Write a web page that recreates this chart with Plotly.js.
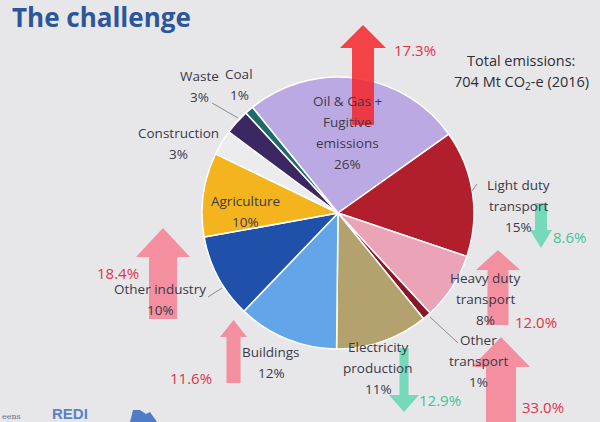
<!DOCTYPE html>
<html>
<head>
<meta charset="utf-8">
<script src="https://cdn.plot.ly/plotly-3.0.1.min.js"></script>
<style>html,body{margin:0;padding:0;background:#e7e7e9;}#chart{width:600px;height:422px;}</style>
</head>
<body>
<div id="chart"></div>
<script>
// ---- data ----
const categories = ["Oil & Gas + Fugitive emissions", "Light duty transport", "Heavy duty transport", "Other transport", "Electricity production", "Buildings", "Other industry", "Agriculture", "Construction", "Waste", "Coal"];
const labelLines = [["Oil & Gas +", "Fugitive", "emissions"], ["Light duty", "transport"], ["Heavy duty", "transport"], ["Other", "transport"], ["Electricity", "production"], ["Buildings"], ["Other industry"], ["Agriculture"], ["Construction"], ["Waste"], ["Coal"]];
const shares = [26, 15, 8, 1, 11, 12, 10, 10, 3, 3, 1];
const sliceColors = ["#bba9e3", "#b11f2c", "#eba3b7", "#8a1628", "#b3a26e", "#62a6e9", "#1f50aa", "#f3b41d", "#ececee", "#3b2762", "#1c6a6c"];
const changeCats = ["Oil & Gas + Fugitive emissions", "Light duty transport", "Heavy duty transport", "Other transport", "Electricity production", "Buildings", "Other industry"];
const changes = [17.3, -8.6, 12.0, 33.0, -12.9, 11.6, 18.4];
const totalText = ["Total emissions:", "704 Mt CO<sub>2</sub>-e (2016)"];

// ---- layout helpers (pixel -> paper) ----
const W = 600, H = 422;
const px = x => x / W, py = y => 1 - y / H;

// label placement (centre x, first line y) per category
const labelPos = [[347,101],[518,185],[485,278],[478,340],[378,347],[271,352],[160,289],[246,201],[178,133],[199,76],[239,74]];
const lineGap = 21;

const annotations = [];
categories.forEach((c, i) => {
  const lines = labelLines[i].concat([shares[i] + "%"]);
  lines.forEach((t, k) => {
    annotations.push({xref:"paper", yref:"paper", x:px(labelPos[i][0]), y:py(labelPos[i][1] + k*lineGap),
      text:t, showarrow:false, xanchor:"center", yanchor:"middle",
      font:{family:"Open Sans, sans-serif", size:13.5, color:"#3b3a4a"}});
  });
});

// arrows: [cx, tipY, baseY, headHalf, bodyHalf, endY], and label position
const arrowGeom = [[363,25,48,23,11,125],[541,248,230,11,6,203],[498,250,270,22,10.5,325],[501,337,367,29,15,430],[404,412,395,15,4.5,348],[233.5,320,337,13.5,7,383],[163,228,257,27,14,319]];
const changeLabelPos = [[415,50],[570,237],[536,322],[543,407],[440,400],[191,378],[118,273]];

const shapes = [];
changes.forEach((v, i) => {
  const [cx, tip, base, hh, bh, end] = arrowGeom[i];
  const pts = [[cx,tip],[cx+hh,base],[cx+bh,base],[cx+bh,end],[cx-bh,end],[cx-bh,base],[cx-hh,base]];
  const path = "M" + pts.map(p => px(p[0]) + "," + py(p[1])).join(" L") + " Z";
  let fill;
  if (v < 0) fill = "rgba(96,214,178,0.85)";
  else if (i === 0) fill = "rgba(246,38,42,0.85)";
  else fill = "rgba(247,118,138,0.78)";
  shapes.push({type:"path", xref:"paper", yref:"paper", path:path, fillcolor:fill, line:{width:0}, layer:"above"});
  annotations.push({xref:"paper", yref:"paper", x:px(changeLabelPos[i][0]), y:py(changeLabelPos[i][1]),
    text:Math.abs(v).toFixed(1) + "%", showarrow:false, xanchor:"center", yanchor:"middle",
    font:{family:"Open Sans, sans-serif", size:15, color: v < 0 ? "#3fc3a0" : "#e0344c"}});
});

// leader lines
const leaders = [[[212,103],[238,118]],[[208,297],[222,288]],[[430,317],[458,343]],[[472,191],[477,184]]];
leaders.forEach(l => shapes.push({type:"line", xref:"paper", yref:"paper",
  x0:px(l[0][0]), y0:py(l[0][1]), x1:px(l[1][0]), y1:py(l[1][1]), line:{color:"#8a8a96", width:1}}));

// title and total
annotations.push({xref:"paper", yref:"paper", x:px(10), y:py(17), text:"<b>The challenge</b>", showarrow:false,
  xanchor:"left", yanchor:"middle", font:{family:"Open Sans, sans-serif", size:26, color:"#2b569b"}});
totalText.forEach((t, k) => annotations.push({xref:"paper", yref:"paper", x:px(521), y:py(60 + k*23), text:t,
  showarrow:false, xanchor:"center", yanchor:"middle", font:{family:"Open Sans, sans-serif", size:14.5, color:"#2e2e36"}}));

// footer logos (text)
annotations.push({xref:"paper", yref:"paper", x:px(70), y:py(413), text:"<b>REDI</b>", showarrow:false,
  xanchor:"center", yanchor:"middle", font:{family:"Liberation Sans Narrow, Liberation Sans, sans-serif", size:15, color:"#5a82c4"}});
annotations.push({xref:"paper", yref:"paper", x:px(0), y:py(416), text:"eens", showarrow:false,
  xanchor:"left", yanchor:"middle", font:{family:"DejaVu Serif, serif", size:8, color:"#5a6a8a"}});
shapes.push({type:"path", xref:"paper", yref:"paper", layer:"above",
  path:"M"+px(130)+","+py(422)+" L"+px(133)+","+py(410)+" L"+px(140)+","+py(410)+" L"+px(146)+","+py(414)+" L"+px(150)+","+py(412)+" L"+px(157)+","+py(422)+" Z",
  fillcolor:"#4f7cc6", line:{width:0}});

const trace = {
  type:"pie", labels:categories, values:shares, sort:false, direction:"clockwise", rotation:-39,
  marker:{colors:sliceColors, line:{color:"#ffffff", width:1.5}},
  textinfo:"none", hoverinfo:"label+percent", showlegend:false,
  domain:{x:[px(202), px(474)], y:[py(349), py(77)]}
};

const layout = {
  width:600, height:422, margin:{l:0,r:0,t:0,b:0},
  paper_bgcolor:"#e7e7e9", plot_bgcolor:"#e7e7e9",
  showlegend:false, annotations:annotations, shapes:shapes
};
Plotly.newPlot("chart", [trace], layout, {displayModeBar:false, staticPlot:true});
</script>
</body>
</html>
